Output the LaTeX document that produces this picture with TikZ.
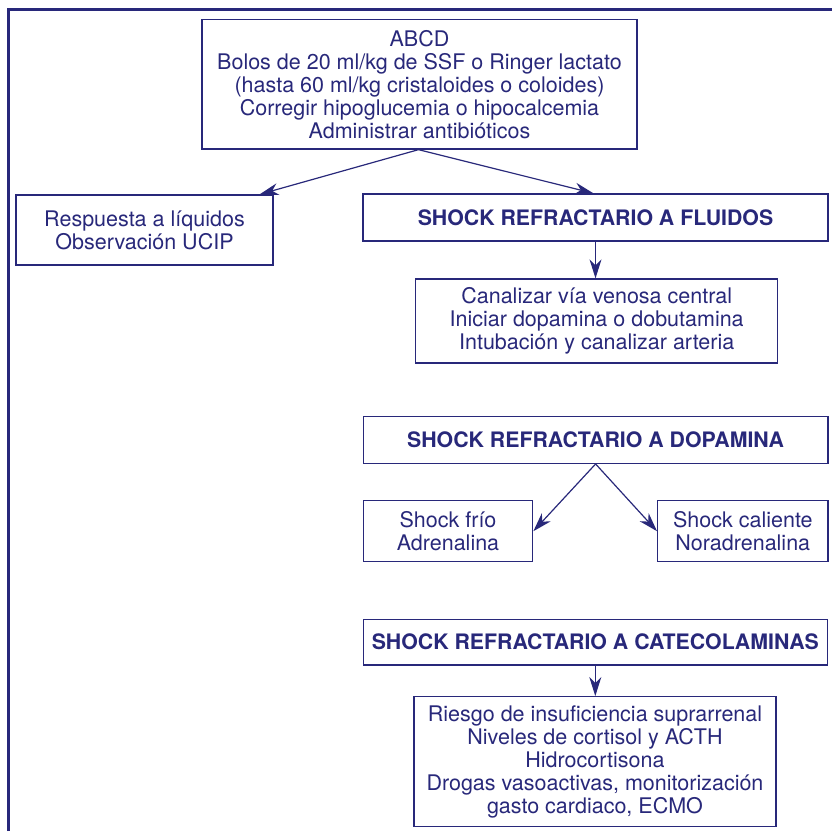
\documentclass[tikz,border=0pt]{standalone}
\usepackage{fontspec}
\setmainfont{TeX Gyre Heros}
\usetikzlibrary{arrows.meta}
\definecolor{navy}{RGB}{40,40,122}
\tikzset{
  box/.style={draw=navy, line width=1.3pt, inner sep=0pt, align=center, text=navy,
    font=\fontsize{21.5}{23}\selectfont},
  boldbox/.style={box, font=\fontsize{21.3}{23}\selectfont\bfseries},
  arr/.style={draw=navy, line width=1.2pt, -{Stealth[length=19pt,width=12pt,inset=6pt]}}
}
\begin{document}
\begin{tikzpicture}[x=1pt,y=-1pt]
\useasboundingbox (0,0) rectangle (832,831);
\draw[navy, line width=2.4pt] (8.5,831) -- (8.5,9.5) -- (832,9.5);
\node[box, minimum width=435pt, minimum height=129.5pt] (b1) at (419.5,84.25)
  {ABCD\\Bolos de 20 ml/kg de SSF o Ringer lactato\\(hasta 60 ml/kg cristaloides o coloides)\\Corregir hipoglucemia o hipocalcemia\\Administrar antibióticos};
\node[box, minimum width=257pt, minimum height=70pt] (resp) at (144.5,230)
  {Respuesta a líquidos\\Observación UCIP};
\node[boldbox, minimum width=465pt, minimum height=47pt] (fl) at (595.5,217.5)
  {SHOCK REFRACTARIO A FLUIDOS};
\node[box, minimum width=362pt, minimum height=84pt] (can) at (596.7,321)
  {Canalizar vía venosa central\\Iniciar dopamina o dobutamina\\Intubación y canalizar arteria};
\node[boldbox, minimum width=464.7pt, minimum height=46.6pt] (dop) at (595.6,440)
  {SHOCK REFRACTARIO A DOPAMINA};
\node[box, minimum width=169.4pt, minimum height=61pt] (frio) at (448,531.2)
  {Shock frío\\Adrenalina};
\node[box, minimum width=170.3pt, minimum height=61pt] (cal) at (742.8,531.2)
  {Shock caliente\\Noradrenalina};
\node[boldbox, minimum width=464pt, minimum height=45.7pt] (cat) at (595.3,642.2)
  {SHOCK REFRACTARIO A CATECOLAMINAS};
\node[box, minimum width=362pt, minimum height=130pt] (last) at (595,761.7)
  {Riesgo de insuficiencia suprarrenal\\Niveles de cortisol y ACTH\\Hidrocortisona\\Drogas vasoactivas, monitorización\\gasto cardiaco, ECMO};
\draw[arr] ([xshift=-1pt]b1.south) -- ([xshift=-14pt]resp.north east);
\draw[arr] ([xshift=-1pt]b1.south) -- ([xshift=-2pt]fl.north);
\draw[arr] (fl.south) -- (fl.south |- can.north);
\draw[arr] (dop.south) -- (frio.east);
\draw[arr] (dop.south) -- (cal.west);
\draw[arr] (cat.south) -- (cat.south |- last.north);
\end{tikzpicture}
\end{document}
